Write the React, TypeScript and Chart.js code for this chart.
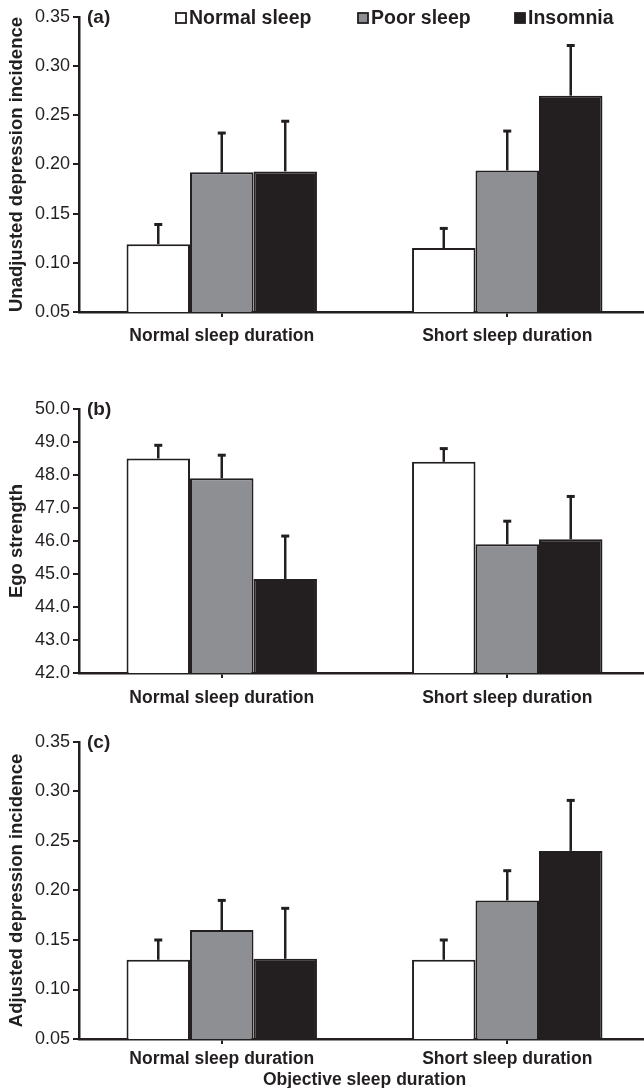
import React, { useEffect, useRef } from "react";
import { Chart, registerables } from "chart.js";

Chart.register(...registerables);

// ---------- data ----------
const categories = ["Normal sleep duration", "Short sleep duration"];
const seriesLabels = ["Normal sleep", "Poor sleep", "Insomnia"];
const seriesColors = ["#ffffff", "#8e8f93", "#231f20"];

// (a) Unadjusted depression incidence
const unadjNormalSleep = [0.119, 0.115];
const unadjPoorSleep = [0.192, 0.194];
const unadjInsomnia = [0.193, 0.27];
const unadjNormalSleepErrTop = [0.139, 0.135];
const unadjPoorSleepErrTop = [0.232, 0.234];
const unadjInsomniaErrTop = [0.244, 0.321];

// (b) Ego strength
const egoNormalSleep = [48.5, 48.4];
const egoPoorSleep = [47.9, 45.9];
const egoInsomnia = [44.85, 46.05];
const egoNormalSleepErrTop = [48.9, 48.8];
const egoPoorSleepErrTop = [48.6, 46.6];
const egoInsomniaErrTop = [46.15, 47.35];

// (c) Adjusted depression incidence
const adjNormalSleep = [0.13, 0.13];
const adjPoorSleep = [0.16, 0.19];
const adjInsomnia = [0.131, 0.24];
const adjNormalSleepErrTop = [0.15, 0.15];
const adjPoorSleepErrTop = [0.19, 0.22];
const adjInsomniaErrTop = [0.182, 0.291];

const incidenceTicks = [0.05, 0.1, 0.15, 0.2, 0.25, 0.3, 0.35];
const egoTicks = [42, 43, 44, 45, 46, 47, 48, 49, 50];

// ---------- styling ----------
const INK = "#231f20";
const FONT = "'Liberation Sans', Arial, Helvetica, sans-serif";

const errorBarPlugin = {
  id: "errorBars",
  afterDatasetsDraw(chart: any) {
    const ctx = chart.ctx;
    const yScale = chart.scales.y;
    chart.data.datasets.forEach((ds: any, i: number) => {
      const meta = chart.getDatasetMeta(i);
      meta.data.forEach((bar: any, j: number) => {
        const top = ds.errorTop[j];
        const x = bar.x;
        const y0 = bar.y;
        const y1 = yScale.getPixelForValue(top);
        ctx.save();
        ctx.strokeStyle = INK;
        ctx.lineWidth = 2.5;
        ctx.beginPath();
        ctx.moveTo(x, y0);
        ctx.lineTo(x, y1);
        ctx.stroke();
        ctx.lineWidth = 3;
        ctx.beginPath();
        ctx.moveTo(x - 4, y1);
        ctx.lineTo(x + 4, y1);
        ctx.stroke();
        ctx.restore();
      });
    });
  },
};

const decorPlugin = {
  id: "panelDecor",
  afterDraw(chart: any, _args: any, opts: any) {
    const ctx = chart.ctx;
    const area = chart.chartArea;
    ctx.save();
    ctx.fillStyle = INK;
    ctx.textBaseline = "middle";
    ctx.textAlign = "left";
    ctx.font = `bold 19px ${FONT}`;
    ctx.fillText(opts.letter, area.left + 8, area.top + opts.letterDy);
    if (opts.legend) {
      const y = area.top + opts.legendDy;
      chart.data.datasets.forEach((ds: any, i: number) => {
        const x = opts.legendXs[i];
        ctx.fillStyle = ds.backgroundColor;
        ctx.fillRect(x, y - 5, 10, 10);
        ctx.strokeStyle = INK;
        ctx.lineWidth = 1.8;
        ctx.strokeRect(x, y - 5, 10, 10);
        ctx.fillStyle = INK;
        ctx.font = `bold 19.5px ${FONT}`;
        ctx.fillText(ds.label, x + 13, y + 1);
      });
    }
    ctx.restore();
  },
};

function buildDatasets(values: number[][], tops: number[][]) {
  return values.map((v, i) => ({
    label: seriesLabels[i],
    data: v,
    errorTop: tops[i],
    backgroundColor: seriesColors[i],
    borderColor: INK,
    borderWidth: 2,
    borderSkipped: "bottom",
    categoryPercentage: 0.667,
    barPercentage: 1.0,
  }));
}

type PanelSpec = {
  values: number[][];
  tops: number[][];
  ticks: number[];
  decimals: number;
  yTitle: string;
  xTitle?: string;
  letter: string;
  legend: boolean;
  top: number;
  height: number;
  padTop: number;
  xHeight: number;
  xLabelPad: number;
};

const CANVAS_W = 651;

function Panel({ spec }: { spec: PanelSpec }) {
  const ref = useRef<HTMLCanvasElement | null>(null);
  useEffect(() => {
    if (!ref.current) return;
    const min = spec.ticks[0];
    const max = spec.ticks[spec.ticks.length - 1];
    const step = spec.ticks[1] - spec.ticks[0];
    const chart = new Chart(ref.current, {
      type: "bar",
      data: {
        labels: categories,
        datasets: buildDatasets(spec.values, spec.tops) as any,
      },
      plugins: [errorBarPlugin, decorPlugin],
      options: {
        responsive: false,
        animation: false,
        devicePixelRatio: 1,
        layout: { padding: { top: spec.padTop, left: 0, right: 1, bottom: 0 } },
        plugins: {
          legend: { display: false },
          tooltip: { enabled: false },
          panelDecor: {
            letter: spec.letter,
            letterDy: 1,
            legend: spec.legend,
            legendXs: [176, 358, 515],
            legendDy: 1,
          },
        } as any,
        scales: {
          x: {
            type: "category",
            offset: true,
            grid: {
              display: true,
              drawOnChartArea: false,
              drawTicks: true,
              tickLength: 5,
              offset: false,
              color: INK,
              lineWidth: 2,
            },
            border: { display: true, color: INK, width: 2.5 },
            ticks: {
              color: INK,
              padding: spec.xLabelPad,
              font: { family: FONT, size: 17.5, weight: "bold" },
              maxRotation: 0,
            },
            title: spec.xTitle
              ? {
                  display: true,
                  text: spec.xTitle,
                  color: INK,
                  font: { family: FONT, size: 17.5, weight: "bold" },
                  padding: { top: 0, bottom: 1 },
                }
              : { display: false },
            afterFit: (scale: any) => {
              scale.height = spec.xHeight;
            },
          },
          y: {
            min,
            max,
            grid: {
              display: true,
              drawOnChartArea: false,
              drawTicks: true,
              tickLength: 6,
              color: INK,
              lineWidth: 2,
            },
            border: { display: true, color: INK, width: 2.5 },
            ticks: {
              stepSize: step,
              color: INK,
              padding: 3,
              font: { family: FONT, size: 18 },
              callback: (v: any) => Number(v).toFixed(spec.decimals),
            },
            title: {
              display: true,
              text: spec.yTitle,
              color: INK,
              font: { family: FONT, size: 18.5, weight: "bold" },
              padding: { top: 6, bottom: 0 },
            },
            afterFit: (scale: any) => {
              scale.width = 79;
            },
          },
        },
      },
    });
    return () => chart.destroy();
  }, [spec]);
  return (
    <canvas
      ref={ref}
      width={CANVAS_W}
      height={spec.height}
      style={{
        position: "absolute",
        left: 0,
        top: spec.top,
        width: CANVAS_W,
        height: spec.height,
      }}
    />
  );
}

const panels: PanelSpec[] = [
  {
    values: [unadjNormalSleep, unadjPoorSleep, unadjInsomnia],
    tops: [unadjNormalSleepErrTop, unadjPoorSleepErrTop, unadjInsomniaErrTop],
    ticks: incidenceTicks,
    decimals: 2,
    yTitle: "Unadjusted depression incidence",
    letter: "(a)",
    legend: true,
    top: 0,
    height: 350,
    padTop: 17,
    xHeight: 38,
    xLabelPad: 9,
  },
  {
    values: [egoNormalSleep, egoPoorSleep, egoInsomnia],
    tops: [egoNormalSleepErrTop, egoPoorSleepErrTop, egoInsomniaErrTop],
    ticks: egoTicks,
    decimals: 1,
    yTitle: "Ego strength",
    letter: "(b)",
    legend: false,
    top: 370,
    height: 341,
    padTop: 39,
    xHeight: 38,
    xLabelPad: 10,
  },
  {
    values: [adjNormalSleep, adjPoorSleep, adjInsomnia],
    tops: [adjNormalSleepErrTop, adjPoorSleepErrTop, adjInsomniaErrTop],
    ticks: incidenceTicks,
    decimals: 2,
    yTitle: "Adjusted depression incidence",
    xTitle: "Objective sleep duration",
    letter: "(c)",
    legend: false,
    top: 715,
    height: 377,
    padTop: 27,
    xHeight: 53,
    xLabelPad: 5,
  },
];

export default function App() {
  return (
    <div
      style={{
        position: "absolute",
        left: 0,
        top: 0,
        width: 644,
        height: 1088,
        overflow: "hidden",
        background: "#ffffff",
      }}
    >
      {panels.map((p, i) => (
        <Panel key={i} spec={p} />
      ))}
    </div>
  );
}
